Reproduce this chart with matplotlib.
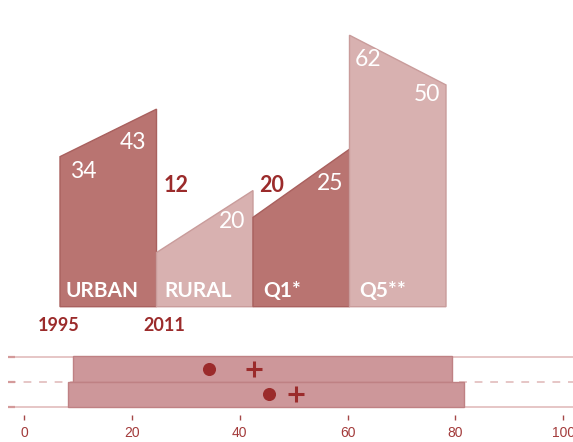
import matplotlib.pyplot as plt
import numpy as np

# data
groups = ['URBAN', 'RURAL', 'Q1*', 'Q5**']
val_1995 = [34, 12, 20, 62]
val_2011 = [43, 20, 25, 50]
# heights of the shapes as drawn (the picture is not strictly to scale)
h_1995 = [34.1, 12.3, 20.3, 61.7]
h_2011 = [44.9, 26.4, 35.8, 50.4]
years = ['1995', '2011']

box_low = [9.1, 8.2]
box_high = [79.3, 81.6]
dot_vals = [34.3, 45.5]
plus_vals = [42.6, 50.4]
xticks = [0, 20, 40, 60, 80, 100]

dark = '#b97471'
light = '#d8b1b0'
edge_dark = '#a9605e'
edge_light = '#c99c9b'
red = '#9b2b2b'

plt.rcParams['font.family'] = ['Lato', 'DejaVu Sans']

W, H = 573, 442
fig = plt.figure(figsize=(W / 100, H / 100), dpi=100)

# upper panel: x 0..4 between px 60 and 446, y 4.4 px per unit, base at px 306.7
ax = fig.add_axes([60 / W, (H - 306.7) / H, 386 / W, 68 * 4.4 / H])
ax.set_xlim(0, 4)
ax.set_ylim(0, 68)
ax.axis('off')

fills = [dark, light, dark, light]
edges = [edge_dark, edge_light, edge_dark, edge_light]
for i in range(len(groups)):
    ax.fill([i, i, i + 1, i + 1], [0, h_1995[i], h_2011[i], 0],
            facecolor=fills[i], edgecolor=edges[i], lw=1, clip_on=False)

# value labels
left_dx = [0.238, 0.202, 0.197, 0.192]
left_y = [30.7, 27.5, 27.6, 56.1]
left_outside = [False, True, True, False]
right_dx = [0.76, 0.782, 0.798, 0.80]
right_y = [37.4, 19.3, 27.9, 48.3]
for i in range(len(groups)):
    if left_outside[i]:
        ax.text(i + left_dx[i], left_y[i], str(val_1995[i]), color=red,
                fontsize=15.5, fontweight='bold', ha='center', va='center')
    else:
        ax.text(i + left_dx[i], left_y[i], str(val_1995[i]), color='white',
                fontsize=16.5, ha='center', va='center')
    ax.text(i + right_dx[i], right_y[i], str(val_2011[i]), color='white',
            fontsize=16.5, ha='center', va='center')

name_dx = [0.052, 0.078, 0.104, 0.098]
for i, g in enumerate(groups):
    ax.text(i + name_dx[i], 3.57, g, color='white', fontsize=15,
            fontweight='bold', ha='left', va='center')

ax.text(-0.01, -4.16, years[0], color=red, fontsize=13, fontweight='bold',
        ha='center', va='center')
ax.text(1.078, -4.16, years[1], color=red, fontsize=13, fontweight='bold',
        ha='center', va='center')

# lower panel: 0 at px 24, 5.393 px per unit
ppu = 5.393
x0 = 24
bx = fig.add_axes([7.5 / W, (H - 415) / H, (W - 7.5) / W, 2.544 * 24.7 / H])
bx.set_xlim((7.5 - x0) / ppu, (W - x0) / ppu)
bx.set_ylim(-0.344, 2.2)
for s in bx.spines.values():
    s.set_visible(False)

line_c = '#e6c6c6'
bx.axhline(2, color=line_c, lw=1.4, zorder=1)
bx.axhline(1, color=line_c, lw=1.4, ls=(0, (4, 4)), zorder=1)
bx.axhline(0, color=line_c, lw=1.4, zorder=1)

ys = [1, 0]
hs = [1.04, 1.0]
for k in range(2):
    bx.barh(ys[k], box_high[k] - box_low[k], left=box_low[k], height=hs[k],
            align='edge', color='#cd979a', edgecolor='#bf8184', lw=1, zorder=2)
    bx.plot(dot_vals[k], ys[k] + 0.5, 'o', color=red, ms=8.4, zorder=3)
    bx.plot(plus_vals[k], ys[k] + 0.5, '+', color=red, ms=11, mew=2.2, zorder=3)

bx.set_yticks([0, 1, 2])
bx.tick_params(axis='y', direction='in', length=4.7, width=1.6,
               color='#d49a9a', labelleft=False)
bx.set_xticks(xticks)
bx.set_xticklabels([str(t) for t in xticks], family='Liberation Sans')
bx.tick_params(axis='x', direction='out', length=3.6, width=1,
               color='#a54848', labelcolor='#a33b3b', labelsize=10, pad=4.5)

fig.savefig('out.png', dpi=100)
